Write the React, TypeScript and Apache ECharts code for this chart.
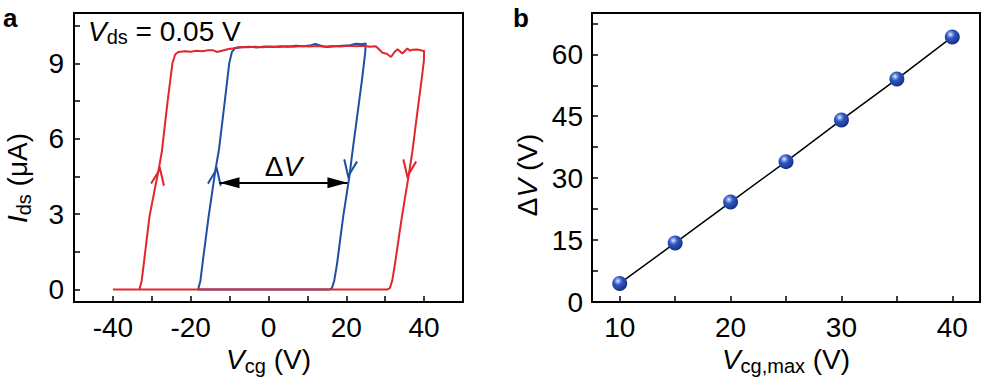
import React, { useEffect, useRef } from 'react';
import * as echarts from 'echarts';

const FONT = '"Liberation Sans", Arial, Helvetica, sans-serif';
const RED = '#e3262b';
const BLUE = '#1f4fa3';

// ---------- Panel a ----------
const aXTicks = [-40, -30, -20, -10, 0, 10, 20, 30, 40];
const aXLabels = [-40, -20, 0, 20, 40];
const aYTicks = [0, 1.5, 3, 4.5, 6, 7.5, 9, 10.5];
const aYLabels = [0, 3, 6, 9];

// red loop (Vcg sweep ±40 V): [Vcg, Ids]
const redLoop: number[][] = [
  [-40, 0], [-36, 0], [-33.2, 0], [-32.6, 0.35], [-32.0, 1.1], [-30.6, 2.9], [-28.2, 4.8],
  [-27.4, 5.5], [-26.0, 7.4], [-24.7, 9.0], [-24.0, 9.35], [-23.2, 9.45],
  [-21.5, 9.48], [-20, 9.46], [-18.5, 9.5], [-17, 9.48], [-15.5, 9.52], [-14.3, 9.52],
  [-13.3, 9.45], [-12, 9.5], [-10.5, 9.56], [-9, 9.6], [-7.4, 9.65], [-5.5, 9.64],
  [-3.5, 9.66], [-1.5, 9.64], [0.5, 9.67], [2.5, 9.65], [4.5, 9.68], [6.5, 9.66],
  [8.5, 9.69], [10.5, 9.67], [12.5, 9.69], [14.5, 9.66], [16.5, 9.69], [18.5, 9.67],
  [20.5, 9.7], [22.5, 9.68], [24.5, 9.7], [26, 9.66], [27.6, 9.68], [29.3, 9.42],
  [30.4, 9.38], [31.5, 9.25], [32.4, 9.45], [33.2, 9.56], [34.4, 9.39], [35.7, 9.59],
  [36.4, 9.5], [37, 9.54], [38.3, 9.55], [39.6, 9.5], [40, 9.5],
  [39.95, 9.1], [39.4, 8.4], [38.3, 7.1], [37.0, 5.5], [36.0, 4.5], [34.3, 2.9],
  [32.4, 0.9], [31.8, 0.35], [31.2, 0.05], [30.6, 0], [20, 0], [0, 0], [-20, 0], [-40, 0],
];

// blue loop (Vcg sweep ±25 V)
const blueLoop: number[][] = [
  [15.8, 0], [0, 0], [-18.1, 0], [-17.5, 0.35], [-16.9, 1.1], [-15.4, 2.9], [-13.6, 4.8],
  [-12.7, 5.6], [-11.3, 7.4], [-10.1, 9.0], [-9.4, 9.45], [-8.6, 9.6],
  [-7, 9.64], [-5, 9.66], [-3, 9.63], [-1, 9.67], [1, 9.65], [3, 9.68], [5, 9.66],
  [7, 9.7], [9, 9.68], [11, 9.72], [12, 9.77], [13.5, 9.7], [15, 9.65], [17, 9.68],
  [19, 9.7], [21, 9.72], [22.5, 9.78], [24, 9.76], [25, 9.79],
  [24.85, 9.4], [24.0, 8.3], [22.8, 6.9], [21.6, 5.5], [20.8, 4.5], [19.2, 2.9],
  [17.6, 1.0], [16.9, 0.35], [16.3, 0.05], [15.8, 0],
];

// sweep-direction arrowheads: [Vcg, Ids] of the tip
const redArrowUp = [-28.2, 4.8];
const redArrowDown = [36.0, 4.5];
const blueArrowUp = [-13.6, 4.8];
const blueArrowDown = [20.8, 4.5];

// ΔV double arrow (tip positions)
const dvStart = [-12.6, 4.25];
const dvEnd = [20.3, 4.25];

// ---------- Panel b ----------
const bXTicks = [10, 15, 20, 25, 30, 35, 40];
const bXLabels = [10, 20, 30, 40];
const bYTicks = [0, 7.5, 15, 22.5, 30, 37.5, 45, 52.5, 60, 67.5];
const bYLabels = [0, 15, 30, 45, 60];
const bX = [10, 15, 20, 25, 30, 35, 40];
const bY = [4.5, 14.3, 24.2, 34.0, 44.1, 54.0, 64.2];

const UP_CHEVRON = 'path://M0,16 L6.5,0 L13,16';
const DOWN_CHEVRON = 'path://M0,0 L6.5,16 L13,0';

export default function App() {
  const ref = useRef<HTMLDivElement>(null);
  useEffect(() => {
    if (!ref.current) return;
    const chart = echarts.init(ref.current, undefined, { renderer: 'svg' });
    const FS = 28;
    const rich: any = {
      n: { fontSize: FS, fontFamily: FONT, color: '#000', lineHeight: 32 },
      it: { fontSize: FS, fontFamily: FONT, fontStyle: 'italic', color: '#000', lineHeight: 32 },
      sub: { fontSize: 20, fontFamily: FONT, color: '#000', lineHeight: 13, verticalAlign: 'bottom' },
    };
    const tickLabel = { fontSize: FS, color: '#000', fontFamily: FONT };
    const axisLine = { show: true, onZero: false, lineStyle: { color: '#000', width: 2 } };
    const tick = (vals: number[]) => ({
      show: true, inside: true, length: 6, customValues: vals, lineStyle: { color: '#000', width: 1.5 },
    });
    const chev = (pos: number[], color: string, up: boolean) => ({
      value: pos,
      symbol: up ? UP_CHEVRON : DOWN_CHEVRON,
      symbolSize: [13, 16],
      symbolRotate: -9,
      symbolOffset: [0, up ? 8 : -8],
      itemStyle: { color: 'transparent', borderColor: color, borderWidth: 2.2, opacity: 1 },
    });
    const sphere = new echarts.graphic.RadialGradient(0.38, 0.33, 0.7, [
      { offset: 0, color: '#f4f7ff' },
      { offset: 0.14, color: '#9ab0ec' },
      { offset: 0.4, color: '#2f56c2' },
      { offset: 0.8, color: '#1d3c9c' },
      { offset: 1, color: '#132a70' },
    ]);

    chart.setOption({
      animation: false,
      grid: [
        { left: 74, top: 13, width: 389, height: 289, show: true, borderColor: '#000', borderWidth: 2, outerBoundsMode: 'none' },
        { left: 592, top: 13, width: 388, height: 289, show: true, borderColor: '#000', borderWidth: 2, outerBoundsMode: 'none' },
      ],
      xAxis: [
        {
          gridIndex: 0, type: 'value', min: -50, max: 50,
          axisLine, axisTick: tick(aXTicks),
          axisLabel: { ...tickLabel, customValues: aXLabels, margin: 11 },
          splitLine: { show: false },
          name: '{it|V}{sub|cg}{n| (V)}', nameLocation: 'middle', nameGap: 40,
          nameTextStyle: { rich },
        },
        {
          gridIndex: 1, type: 'value', min: 7.5, max: 42.5,
          axisLine, axisTick: tick(bXTicks),
          axisLabel: { ...tickLabel, customValues: bXLabels, margin: 11 },
          splitLine: { show: false },
          name: '{it|V}{sub|cg,max}{n| (V)}', nameLocation: 'middle', nameGap: 40,
          nameTextStyle: { rich },
        },
      ],
      yAxis: [
        {
          gridIndex: 0, type: 'value', min: -0.5, max: 11,
          axisLine, axisTick: tick(aYTicks),
          axisLabel: { ...tickLabel, customValues: aYLabels, margin: 10 },
          splitLine: { show: false },
        },
        {
          gridIndex: 1, type: 'value', min: 0, max: 70,
          axisLine, axisTick: tick(bYTicks),
          axisLabel: { ...tickLabel, customValues: bYLabels, margin: 9 },
          splitLine: { show: false },
        },
      ],
      series: [
        {
          type: 'line', xAxisIndex: 0, yAxisIndex: 0, data: blueLoop, showSymbol: false,
          lineStyle: { color: BLUE, width: 2 }, z: 2, silent: true,
        },
        {
          type: 'line', xAxisIndex: 0, yAxisIndex: 0, data: redLoop, showSymbol: false,
          lineStyle: { color: RED, width: 2 }, z: 3, silent: true,
        },
        {
          type: 'scatter', xAxisIndex: 0, yAxisIndex: 0, silent: true, z: 4,
          itemStyle: { opacity: 1 },
          data: [
            chev(redArrowUp, RED, true), chev(redArrowDown, RED, false),
            chev(blueArrowUp, BLUE, true), chev(blueArrowDown, BLUE, false),
          ],
        },
        {
          type: 'line', xAxisIndex: 0, yAxisIndex: 0, data: [dvStart, dvEnd], showSymbol: false,
          lineStyle: { width: 0, opacity: 0 }, silent: true, z: 5,
          markLine: {
            silent: true, animation: false,
            symbol: ['triangle', 'triangle'], symbolSize: [11, 20], symbolOffset: [[0, 10], [0, 10]],
            lineStyle: { color: '#000', width: 1.8, type: 'solid' },
            label: {
              show: true, position: 'insideMiddleTop', distance: 0,
              formatter: '{n|Δ}{it|V}', rich,
            },
            emphasis: { disabled: true },
            data: [[{ coord: dvStart }, { coord: dvEnd }]],
          },
        },
        {
          type: 'line', xAxisIndex: 1, yAxisIndex: 1,
          data: bX.map((x, i) => [x, bY[i]]),
          symbol: 'circle', symbolSize: 15, showSymbol: true,
          lineStyle: { color: '#000', width: 1.5 },
          itemStyle: { color: sphere, borderWidth: 0 },
          silent: true, z: 3,
        },
      ],
      graphic: [
        { type: 'text', left: 3, top: 5, style: { text: 'a', font: `bold 26px ${FONT}`, fill: '#000' } },
        { type: 'text', left: 513, top: 5, style: { text: 'b', font: `bold 26px ${FONT}`, fill: '#000' } },
        {
          type: 'text', x: 88, y: 15,
          style: {
            text: '{it|V}{sub|ds}{n| = 0.05 V}', rich, verticalAlign: 'top', align: 'left',
          },
        },
        {
          type: 'text', x: 17.5, y: 178, rotation: Math.PI / 2,
          style: {
            text: '{it|I}{sub|ds}{n| (μA)}', rich, verticalAlign: 'middle', align: 'center',
          },
        },
        {
          type: 'text', x: 527, y: 175, rotation: Math.PI / 2,
          style: {
            text: '{n|Δ}{it|V}{n| (V)}', rich, verticalAlign: 'middle', align: 'center',
          },
        },
      ],
    });
    return () => chart.dispose();
  }, []);
  return <div ref={ref} style={{ position: 'absolute', left: 0, top: 0, width: 984, height: 387 }} />;
}
